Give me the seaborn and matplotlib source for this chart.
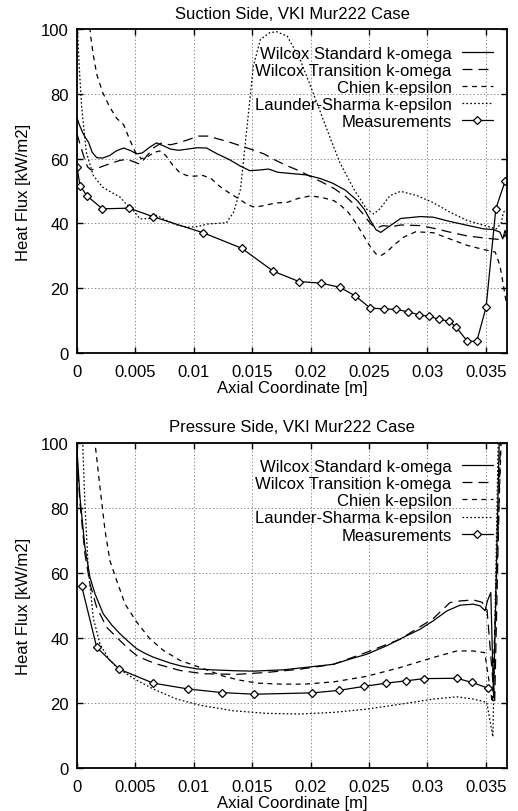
import matplotlib
matplotlib.use("Agg")
import matplotlib.pyplot as plt
import pandas as pd
import seaborn as sns

# VKI Mur222 heat flux
# x = axial coordinate [m], y = heat flux [kW/m2]

#suction side
ss_std_x = [0.0, 0.0002, 0.0005, 0.0007, 0.001, 0.0013, 0.0017, 0.0022, 0.0028, 0.0034, 0.0040,
            0.0046, 0.0051, 0.0056, 0.0062, 0.0068, 0.0074, 0.0080, 0.0087, 0.0095, 0.0103, 0.0111,
            0.0120, 0.0130, 0.0140, 0.0148, 0.0156, 0.0164, 0.0172, 0.0184, 0.0196, 0.0208, 0.0219,
            0.0230, 0.0240, 0.0246, 0.0251, 0.0256, 0.0260, 0.0265, 0.0277, 0.0294, 0.0305, 0.0319,
            0.0334, 0.0348, 0.0356, 0.0362, 0.03645, 0.03664, 0.0368]
ss_std_y = [72.7, 70.5, 68.0, 66.7, 65.0, 62.0, 60.3, 60.2, 61.0, 62.5, 63.3,
            62.5, 61.5, 61.8, 63.5, 64.9, 64.0, 63.0, 62.6, 63.0, 63.4, 63.3,
            61.5, 59.8, 57.7, 56.3, 56.5, 56.8, 55.8, 55.4, 55.0, 53.9, 52.4,
            50.2, 47.0, 44.3, 41.0, 38.0, 37.2, 38.5, 41.5, 42.1, 41.9, 40.6,
            39.4, 38.3, 38.1, 37.3, 35.2, 37.8, 36.0]

ss_trans_x = [0.0, 0.0003, 0.0006, 0.0009, 0.0012, 0.0017, 0.0023, 0.0030, 0.0037, 0.0043, 0.0049,
              0.0054, 0.0060, 0.0066, 0.0072, 0.0080, 0.0088, 0.0096, 0.0104, 0.0112, 0.0120, 0.0130,
              0.0140, 0.0150, 0.0160, 0.0170, 0.0180, 0.0190, 0.0200, 0.0210, 0.0220, 0.0230, 0.0240,
              0.0246, 0.0251, 0.0256, 0.0262, 0.0270, 0.0277, 0.0294, 0.0305, 0.0319, 0.0334, 0.0348,
              0.0356, 0.0362, 0.03645, 0.03664, 0.0368]
ss_trans_y = [67.7, 64.0, 60.5, 57.5, 56.5, 57.0, 57.8, 58.7, 59.5, 59.8, 59.0,
              58.3, 61.0, 63.5, 64.8, 64.3, 65.0, 66.0, 67.0, 67.0, 66.2, 65.2,
              64.0, 62.8, 61.5, 59.5, 57.8, 56.3, 54.5, 52.7, 50.8, 48.3, 45.0,
              42.4, 40.0, 38.5, 39.3, 39.0, 39.5, 39.3, 38.5, 37.3, 36.1, 35.5,
              35.2, 35.0, 35.3, 36.5, 35.5]

ss_chien_x = [0.0008, 0.00117, 0.0014, 0.0017, 0.0022, 0.0028, 0.0034, 0.0040, 0.0045, 0.0050,
              0.0055, 0.0060, 0.0066, 0.0071, 0.0076, 0.0082, 0.0088, 0.0094, 0.0100, 0.0108,
              0.0115, 0.0122, 0.0130, 0.0138, 0.0146, 0.0152, 0.0160, 0.0170, 0.0180, 0.0190,
              0.0200, 0.0210, 0.0220, 0.0226, 0.0232, 0.0238, 0.0244, 0.0251, 0.0256, 0.0260,
              0.0265, 0.0272, 0.0280, 0.0290, 0.0305, 0.0319, 0.0334, 0.0348, 0.0358, 0.0362,
              0.0365, 0.0368]
ss_chien_y = [115.0, 98.0, 92.0, 86.0, 80.5, 76.0, 72.5, 70.5, 66.0, 62.0,
              60.0, 60.5, 62.0, 62.4, 61.0, 58.0, 55.7, 54.8, 54.6, 54.8,
              53.8, 51.5, 49.5, 47.7, 45.8, 45.0, 45.5, 46.3, 46.5, 47.8,
              48.5, 48.0, 47.0, 45.5, 43.5, 40.5, 37.0, 32.8, 30.5, 30.0,
              31.1, 33.5, 35.8, 37.4, 37.1, 35.2, 33.2, 31.9, 31.1, 27.0,
              20.8, 14.1]

ss_ls_x = [0.0, 0.0002, 0.0004, 0.0008, 0.0014, 0.0022, 0.0030, 0.0037, 0.0042, 0.0047, 0.0054,
           0.0062, 0.0068, 0.0075, 0.0085, 0.0095, 0.0103, 0.0112, 0.0120, 0.0128, 0.0134, 0.0140,
           0.0145, 0.0151, 0.0157, 0.0165, 0.0171, 0.0180, 0.0191, 0.0202, 0.0214, 0.0225, 0.0237,
           0.0248, 0.0254, 0.0259, 0.0268, 0.0277, 0.0291, 0.0305, 0.0319, 0.0334, 0.0348, 0.0359,
           0.0363, 0.0365, 0.0368]
ss_ls_y = [104.0, 88.0, 76.0, 62.0, 54.8, 51.2, 49.5, 48.1, 46.0, 44.5, 41.4,
           41.5, 42.5, 41.2, 39.5, 38.8, 39.0, 39.8, 40.0, 40.2, 43.4, 50.6,
           68.0, 88.7, 96.9, 99.0, 99.3, 97.9, 90.7, 80.5, 69.0, 58.8, 50.6,
           44.4, 42.9, 44.4, 48.6, 49.9, 48.6, 46.4, 43.5, 40.9, 39.4, 38.3,
           40.0, 43.5, 44.0]

ss_meas_x = [0.0, 0.00026, 0.00083, 0.00217, 0.00448, 0.00648, 0.0108, 0.0141, 0.0168, 0.0190,
             0.0209, 0.0225, 0.0238, 0.0251, 0.0263, 0.0273, 0.02837, 0.02928, 0.03017, 0.0310,
             0.03188, 0.03245, 0.03342, 0.03422, 0.03502, 0.03585, 0.03664]
ss_meas_y = [57.4, 51.7, 48.6, 44.5, 44.7, 42.1, 37.1, 32.3, 25.2, 22.0,
             21.5, 20.2, 17.6, 13.8, 13.5, 13.4, 12.6, 11.7, 11.2, 10.3,
             9.7, 7.9, 3.5, 3.5, 14.1, 44.5, 53.0]

#pressure side
ps_std_x = [0.0, 0.00026, 0.00068, 0.00111, 0.00154, 0.00225, 0.00300, 0.00368, 0.0044, 0.00511,
            0.00580, 0.00653, 0.00796, 0.0090, 0.01024, 0.0115, 0.01367, 0.0151, 0.01767, 0.01995,
            0.02195, 0.02337, 0.0248, 0.02651, 0.02794, 0.02937, 0.0305, 0.03165, 0.03279, 0.03393,
            0.0345, 0.03493, 0.03513, 0.03542, 0.03566, 0.0362]
ps_std_y = [98.0, 83.0, 67.8, 58.6, 53.5, 47.3, 43.8, 41.2, 38.8, 36.6,
            35.2, 34.0, 32.2, 31.2, 30.4, 30.1, 29.8, 29.7, 30.1, 31.0,
            31.8, 33.4, 34.9, 37.5, 40.1, 42.6, 45.2, 48.2, 50.0, 50.3,
            49.8, 48.3, 51.3, 53.9, 21.5, 110.0]

ps_trans_x = [0.0, 0.00026, 0.00068, 0.00111, 0.00168, 0.00254, 0.00368, 0.00440, 0.00511, 0.00600,
              0.00682, 0.00882, 0.01081, 0.01367, 0.01624, 0.0191, 0.02195, 0.0248, 0.02765, 0.0305,
              0.03193, 0.03279, 0.03393, 0.03467, 0.0351, 0.03575, 0.0363]
ps_trans_y = [96.0, 81.2, 65.8, 56.6, 49.4, 43.2, 39.1, 36.6, 34.5, 33.0,
              31.9, 29.9, 28.9, 28.7, 29.3, 30.3, 31.8, 35.5, 39.5, 45.9,
              50.8, 51.3, 51.6, 50.9, 48.5, 20.0, 110.0]

ps_chien_x = [0.0013, 0.00154, 0.00197, 0.0024, 0.00282, 0.0034, 0.00411, 0.00511, 0.00625, 0.00739,
              0.00882, 0.0108, 0.0125, 0.0138, 0.0155, 0.0175, 0.0195, 0.0220, 0.0248, 0.02765,
              0.0305, 0.0325, 0.0339, 0.0349, 0.03555, 0.0364]
ps_chien_y = [110.0, 100.0, 86.3, 73.0, 63.7, 57.6, 50.4, 44.8, 39.6, 36.1,
              33.0, 30.5, 28.2, 27.0, 26.0, 25.7, 25.7, 26.4, 28.1, 30.8,
              33.9, 35.9, 35.9, 35.4, 20.0, 110.0]

ps_ls_x = [0.0003, 0.00049, 0.00068, 0.00097, 0.0014, 0.00197, 0.0028, 0.0036, 0.00482, 0.00653,
           0.00853, 0.01053, 0.01338, 0.01624, 0.0191, 0.02195, 0.0248, 0.02765, 0.0305, 0.0325,
           0.03393, 0.03507, 0.0356, 0.0361]
ps_ls_y = [110.0, 100.0, 81.0, 61.0, 46.0, 38.0, 33.0, 30.4, 27.5, 24.2,
           21.1, 19.2, 17.5, 16.7, 16.5, 17.0, 18.0, 19.5, 21.1, 21.8,
           21.1, 20.1, 9.5, 110.0]

ps_meas_x = [0.0004, 0.00169, 0.00362, 0.00653, 0.00953, 0.01239, 0.01515, 0.02015, 0.02246, 0.02457,
             0.02646, 0.02814, 0.0297, 0.0325, 0.03384, 0.03522]
ps_meas_y = [55.9, 37.0, 30.3, 26.0, 24.2, 23.1, 22.6, 23.0, 23.8, 25.0,
             26.0, 26.7, 27.4, 27.5, 26.2, 24.4]

model_names = ["Wilcox Standard k-omega", "Wilcox Transition k-omega",
               "Chien k-epsilon", "Launder-Sharma k-epsilon"]
meas_name = "Measurements"
x_ticks = [0, 0.005, 0.01, 0.015, 0.02, 0.025, 0.03, 0.035]
x_tick_labels = ["0", "0.005", "0.01", "0.015", "0.02", "0.025", "0.03", "0.035"]
y_ticks = [0, 20, 40, 60, 80, 100]

sns.set_theme(style="ticks")
plt.rcParams['font.family'] = ['Liberation Sans', 'DejaVu Sans']
plt.rcParams['lines.scale_dashes'] = False
for key in ['text.color', 'axes.labelcolor', 'xtick.color', 'ytick.color']:
    plt.rcParams[key] = 'black'

#gnuplot like line types: solid, long dash, short dash, dotted
model_styles = ["-", (0, (7.2, 4.3)), (0, (3.6, 3.2)), (0, (1.2, 1.6))]
fs = 12


def side_plot(ax, curves, meas_x, meas_y, title):
    for name, (x, y), ls in zip(model_names, curves, model_styles):
        df = pd.DataFrame({"x": x, "y": y})
        sns.lineplot(data=df, x="x", y="y", ax=ax, color="black", linewidth=0.9,
                     linestyle=ls, label=name, estimator=None, sort=False)
    df_m = pd.DataFrame({"x": meas_x, "y": meas_y})
    sns.lineplot(data=df_m, x="x", y="y", ax=ax, color="black", linewidth=0.9,
                 marker="D", markersize=4, markerfacecolor="white",
                 markeredgecolor="black", markeredgewidth=0.9,
                 label=meas_name, estimator=None, sort=False)
    ax.set_xlim(0, 0.0368)
    ax.set_ylim(0, 100)
    ax.set_xticks(x_ticks)
    ax.set_xticklabels(x_tick_labels)
    ax.set_yticks(y_ticks)
    ax.grid(True, color="#8c8c8c", linestyle=(0, (1, 1.5)), linewidth=0.7)
    ax.tick_params(direction="in", top=True, right=True, length=4, width=1,
                   labelsize=fs, color="black")
    ax.tick_params(axis="x", pad=8)
    ax.tick_params(axis="y", pad=6)
    for s in ax.spines.values():
        s.set_linewidth(1.3)
        s.set_color("black")
    ax.set_xlabel("Axial Coordinate [m]", fontsize=fs, labelpad=1)
    ax.set_ylabel("Heat Flux [kW/m2]", fontsize=fs, labelpad=7)
    ax.set_title(title, fontsize=fs, pad=8.5)
    #markerfirst=False packs the rows right aligned, like gnuplot keys
    leg = ax.legend(loc="upper right", bbox_to_anchor=(0.967, 0.95), frameon=False,
                    fontsize=fs, markerfirst=False, handlelength=1.86, handletextpad=0.6,
                    labelspacing=0.13, borderpad=0, borderaxespad=0)
    return leg


fig = plt.figure(figsize=(5.18, 8.12), dpi=100)
ax1 = fig.add_axes([0.1486, 0.5645, 0.830, 0.398])
ax2 = fig.add_axes([0.1486, 0.0534, 0.830, 0.4002])

leg1 = side_plot(ax1, [(ss_std_x, ss_std_y), (ss_trans_x, ss_trans_y),
                       (ss_chien_x, ss_chien_y), (ss_ls_x, ss_ls_y)],
                 ss_meas_x, ss_meas_y, "Suction Side, VKI Mur222 Case")
leg2 = side_plot(ax2, [(ps_std_x, ps_std_y), (ps_trans_x, ps_trans_y),
                       (ps_chien_x, ps_chien_y), (ps_ls_x, ps_ls_y)],
                 ps_meas_x, ps_meas_y, "Pressure Side, VKI Mur222 Case")

fig.savefig("out.png", dpi=100)
